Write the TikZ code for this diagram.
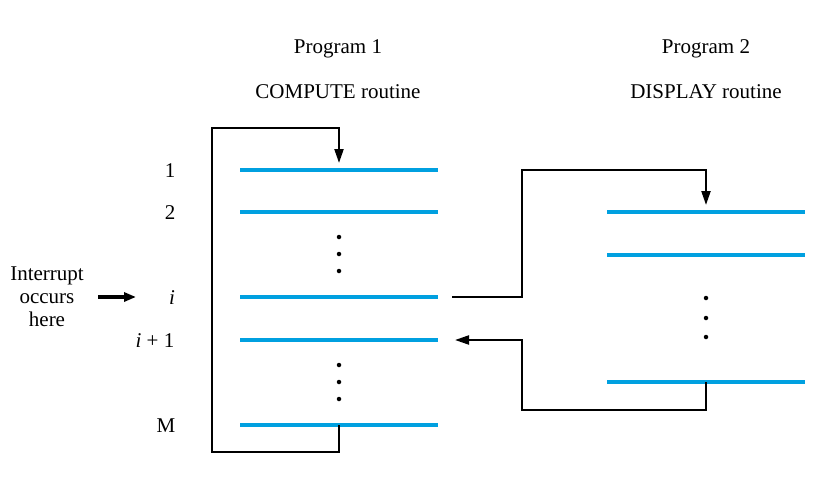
\documentclass[tikz,border=0pt]{standalone}
\usepackage{fontspec}
\setmainfont{Liberation Serif}
\usetikzlibrary{arrows.meta}
\definecolor{instr}{HTML}{00A0E0}
\tikzset{
  instrline/.style={draw=instr,line width=4.5pt},
  flow/.style={draw=black,line width=2.2pt},
  flowarrow/.style={flow,-{Triangle[length=14pt,width=9pt]}},
  lbl/.style={inner sep=0pt,font=\fontsize{21}{25}\selectfont},
  dotmark/.style={circle,fill=black,inner sep=0pt,minimum size=4.5pt}
}
\begin{document}
\begin{tikzpicture}[x=1pt,y=-1pt]
\useasboundingbox (0,0) rectangle (831,479);
% titles
\node[lbl] (p1) at (338,49) {Program 1};
\node[lbl] (c1) at (338,92) {COMPUTE routine};
\node[lbl] (p2) at (706,49) {Program 2};
\node[lbl] (d2) at (706,92) {DISPLAY routine};
% program 1 lines
\foreach \n/\y in {a/170,b/212,i/297,j/340,m/425}{
  \coordinate (L\n) at (240,\y);
  \coordinate (R\n) at (438,\y);
  \coordinate (C\n) at (339,\y);
  \draw[instrline] (L\n) -- (R\n);
}
% program 2 lines
\foreach \n/\y in {a/212,b/255,z/382}{
  \coordinate (QL\n) at (607,\y);
  \coordinate (QR\n) at (805,\y);
  \coordinate (QC\n) at (706,\y);
  \draw[instrline] (QL\n) -- (QR\n);
}
% dots
\foreach \y [count=\k] in {237,254,271}{\node[dotmark] (da\k) at (339,\y) {};}
\foreach \y [count=\k] in {365,382,399}{\node[dotmark] (db\k) at (339,\y) {};}
\foreach \y [count=\k] in {298,318,337}{\node[dotmark] (dc\k) at (706,\y) {};}
% line labels
\node[lbl] (n1) at (170,171) {1};
\node[lbl] (n2) at (170,213) {2};
\node[lbl] (ni) at (172,298) {\itshape i};
\node[lbl] (nj) at (155,341) {\itshape i\upshape{} + 1};
\node[lbl] (nm) at (166,426) {M};
% interrupt
\node[lbl,align=center,font=\fontsize{21}{23}\selectfont] (intr) at (47,297) {Interrupt\\occurs\\here};
\coordinate (ia) at (98,297);
\coordinate (ib) at (136,297);
\draw[line width=4pt,-{Triangle[length=12pt,width=9pt]}] (ia) -- (ib);
% loop in program 1
\coordinate (top1) at (339,163);
\draw[flowarrow] (Cm) -- (339,452) -- (212,452) -- (212,128) -- (339,128) -- (top1);
% jump to program 2
\coordinate (jstart) at (452,297);
\coordinate (top2) at (706,205);
\draw[flowarrow] (jstart) -- (522,297) -- (522,170) -- (706,170) -- (top2);
% return
\coordinate (ret) at (455,340);
\draw[flowarrow] (QCz) -- (706,410) -- (522,410) -- (522,340) -- (ret);
\end{tikzpicture}
\end{document}
